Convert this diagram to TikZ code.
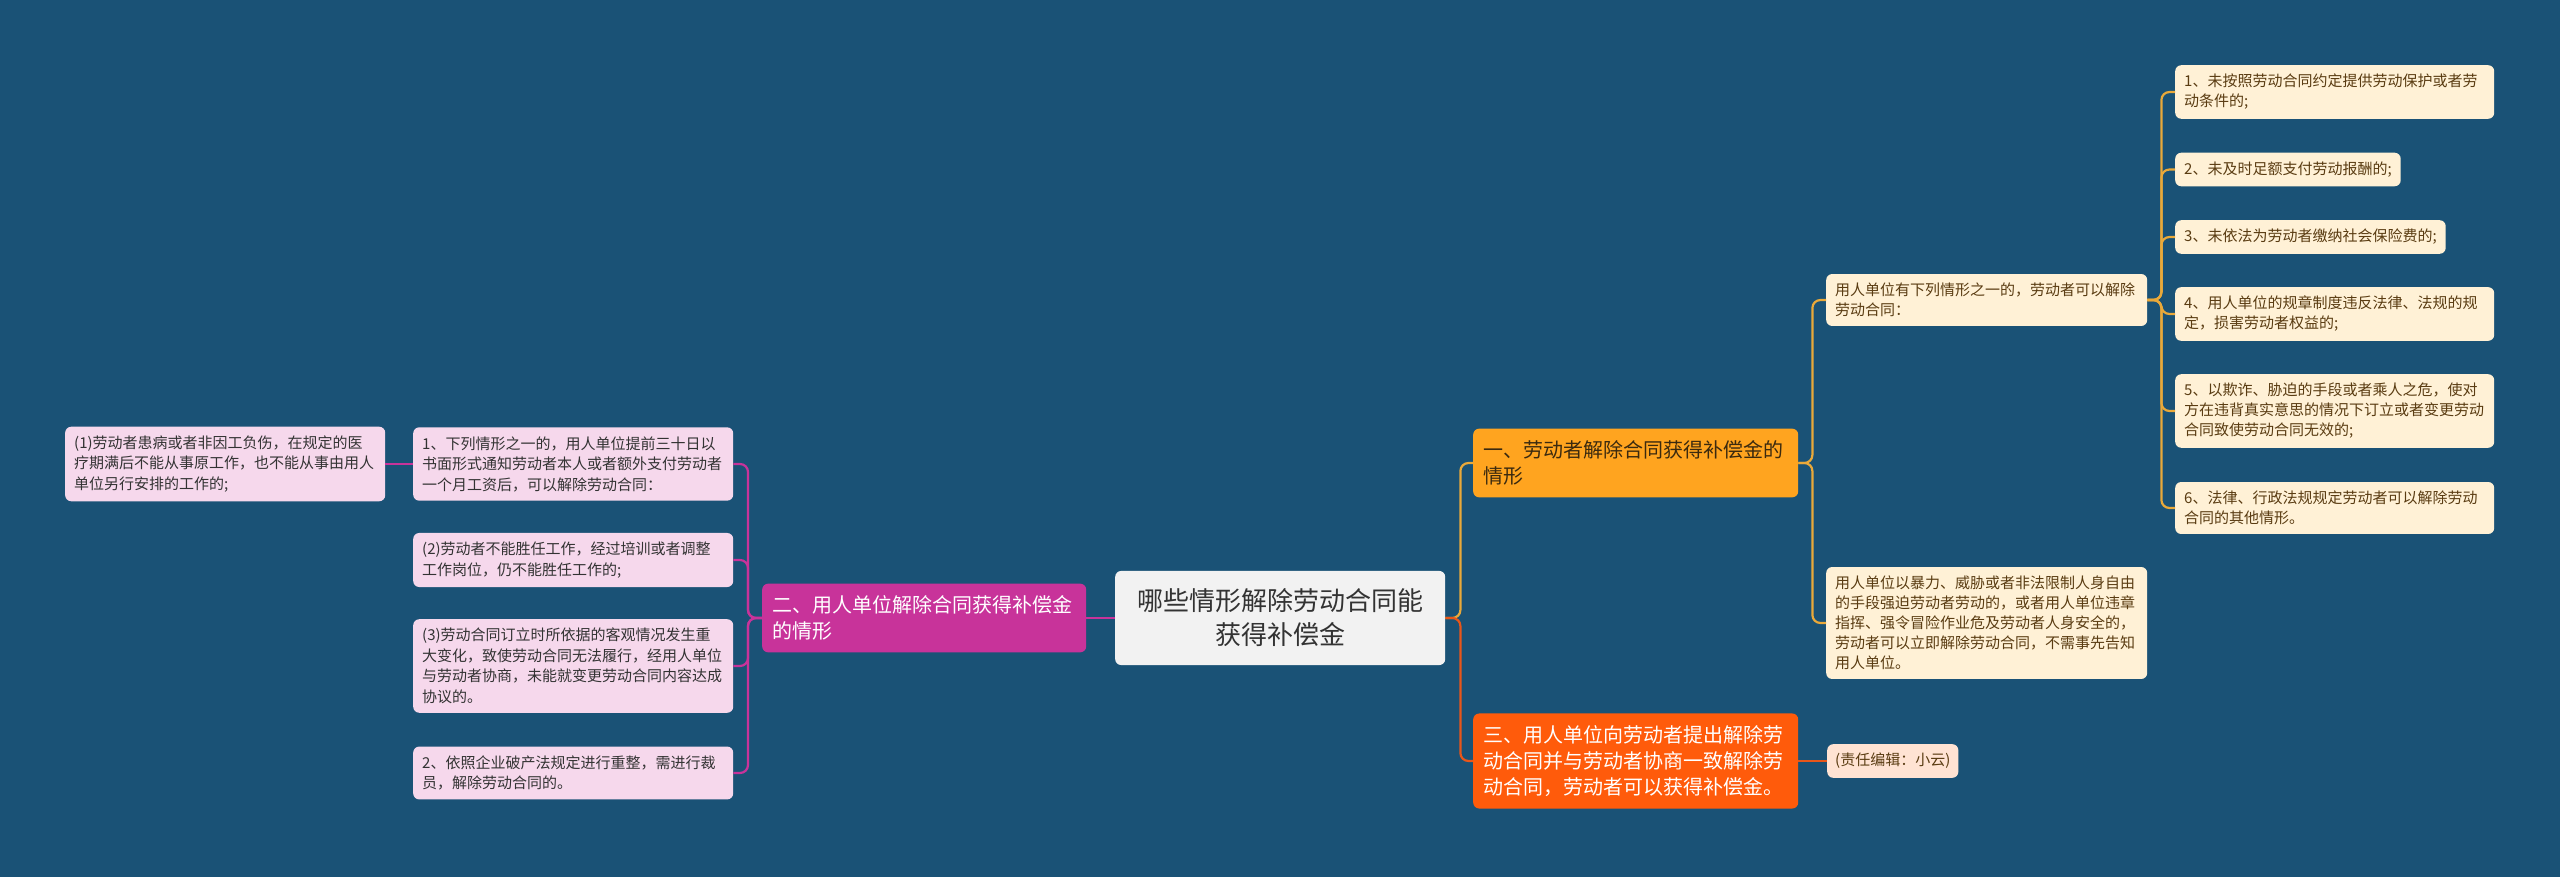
\documentclass[tikz,border=0pt]{standalone}
\usepackage{fontspec}
\setmainfont{Noto Sans CJK SC}
\definecolor{bgblue}{HTML}{1A5276}
\definecolor{magbox}{HTML}{C8339A}
\definecolor{pinkbox}{HTML}{F6D8EC}
\definecolor{darktxt}{HTML}{333333}
\definecolor{goldbox}{HTML}{FFA41F}
\definecolor{goldtxt}{HTML}{3B2A0F}
\definecolor{redbox}{HTML}{FF5B0B}
\definecolor{creambox}{HTML}{FFF1D6}
\definecolor{creamtxt}{HTML}{5A3C12}
\definecolor{peachbox}{HTML}{FFE3D3}
\definecolor{greybox}{HTML}{F2F2F2}
\definecolor{goldln}{HTML}{E9A93A}
\definecolor{redln}{HTML}{E8561A}

\begin{document}
\begin{tikzpicture}[x=1pt,y=-1pt]
\tikzstyle{box}=[rounded corners=6pt, anchor=west, align=left, inner xsep=9pt, inner ysep=9pt]
\tikzstyle{pnk}=[box, fill=pinkbox, text=darktxt, font=\fontsize{15pt}{20.5pt}\selectfont]
\tikzstyle{crm}=[box, fill=creambox, text=creamtxt, font=\fontsize{15pt}{20pt}\selectfont]
\tikzstyle{brn}=[box, inner xsep=10pt, inner ysep=12pt, text width=305pt, font=\fontsize{20pt}{26pt}\selectfont]
\tikzstyle{lnk}=[line width=2.2pt, rounded corners=8pt]
\useasboundingbox (0,0) rectangle (2560,877);
\fill[bgblue] (0,0) rectangle (2560,877);
%centre
\node[box, fill=greybox, text=darktxt, align=center, text width=310pt, inner xsep=10pt, inner ysep=18pt,
  font=\fontsize{26pt}{34pt}\selectfont] (ctr) at (1115,618) {哪些情形解除劳动合同能\\获得补偿金};
%left
\node[brn, fill=magbox, text=white, text width=304pt] (lb) at (762,618) {二、用人单位解除合同获得补偿金\\的情形};
\def\w{302pt};
\node[pnk, text width=\w] (lc1) at (413,464) {1、下列情形之一的，用人单位提前三十日以\\书面形式通知劳动者本人或者额外支付劳动者\\一个月工资后，可以解除劳动合同：};
\node[pnk, text width=\w] (lc2) at (413,560) {(2)劳动者不能胜任工作，经过培训或者调整\\工作岗位，仍不能胜任工作的;};
\node[pnk, text width=\w] (lc3) at (413,666) {(3)劳动合同订立时所依据的客观情况发生重\\大变化，致使劳动合同无法履行，经用人单位\\与劳动者协商，未能就变更劳动合同内容达成\\协议的。};
\node[pnk, text width=\w] (lc4) at (413,773) {2、依照企业破产法规定进行重整，需进行裁\\员，解除劳动合同的。};
\node[pnk, text width=\w] (lg1) at (65,464) {(1)劳动者患病或者非因工负伤，在规定的医\\疗期满后不能从事原工作，也不能从事由用人\\单位另行安排的工作的;};
%right
\node[brn, fill=goldbox, text=goldtxt] (rb1) at (1473,463) {一、劳动者解除合同获得补偿金的\\情形};
\node[brn, fill=redbox, text=white] (rb3) at (1473,761) {三、用人单位向劳动者提出解除劳\\动合同并与劳动者协商一致解除劳\\动合同，劳动者可以获得补偿金。};
\def\w{303pt};
\node[crm, text width=\w] (rc1) at (1826,300) {用人单位有下列情形之一的，劳动者可以解除\\劳动合同：};
\node[crm, text width=\w] (rc2) at (1826,623) {用人单位以暴力、威胁或者非法限制人身自由\\的手段强迫劳动者劳动的，或者用人单位违章\\指挥、强令冒险作业危及劳动者人身安全的，\\劳动者可以立即解除劳动合同，不需事先告知\\用人单位。};
\node[crm, fill=peachbox, inner xsep=8pt] (ed) at (1827,761) {(责任编辑：小云)};
%grandchildren
\def\w{301pt};
\node[crm, text width=\w] (g1) at (2175,92) {1、未按照劳动合同约定提供劳动保护或者劳\\动条件的;};
\node[crm] (g2) at (2175,169.5) {2、未及时足额支付劳动报酬的;};
\node[crm] (g3) at (2175,237) {3、未依法为劳动者缴纳社会保险费的;};
\node[crm, text width=\w] (g4) at (2175,314) {4、用人单位的规章制度违反法律、法规的规\\定，损害劳动者权益的;};
\node[crm, text width=\w] (g5) at (2175,411) {5、以欺诈、胁迫的手段或者乘人之危，使对\\方在违背真实意思的情况下订立或者变更劳动\\合同致使劳动合同无效的;};
\node[crm, text width=\w] (g6) at (2175,508) {6、法律、行政法规规定劳动者可以解除劳动\\合同的其他情形。};
%links
\draw[lnk, magbox] (ctr.west) -- (lb.east);
\foreach \c in {lc1,lc2,lc3,lc4}
  \draw[lnk, magbox] (lb.west) -- ++(-14,0) |- (\c.east);
\draw[lnk, magbox] (lc1.west) -- (lg1.east);
\draw[lnk, goldln] (ctr.east) -- ++(15,0) |- (rb1.west);
\draw[lnk, redln] (ctr.east) -- ++(15,0) |- (rb3.west);
\draw[lnk, goldln] (rb1.east) -- ++(14,0) |- (rc1.west);
\draw[lnk, goldln] (rb1.east) -- ++(14,0) |- (rc2.west);
\foreach \g in {g1,g2,g3,g4,g5,g6}
  \draw[lnk, goldln] (rc1.east) -- ++(14,0) |- (\g.west);
\draw[lnk, redln] (rb3.east) -- (ed.west);
\end{tikzpicture}
\end{document}
